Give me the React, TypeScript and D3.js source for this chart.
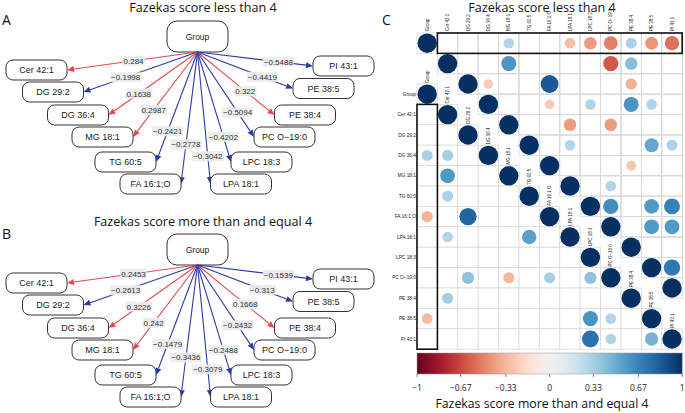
import * as d3 from "d3";

// network panels: Group -> lipid correlations
const lipids = [
  "Cer 42:1", "DG 29:2", "DG 36:4", "MG 18:1", "TG 60:5", "FA 16:1;O",
  "LPA 18:1", "LPC 18:3", "PC O−19:0", "PE 38:4", "PE 38:5", "PI 43:1",
];
const corrLow = [0.284, -0.1998, 0.1638, 0.2987, -0.2421, -0.2778, -0.3042, -0.4202, -0.5094, 0.322, -0.4419, -0.5488];
const corrHigh = [0.2453, -0.2613, 0.3226, 0.242, -0.1479, -0.3436, -0.3079, -0.2488, -0.2432, 0.1668, -0.313, -0.1539];

// correlation matrix panel: [row, col, r]
const matrixLabels = ["Group", ...lipids];
const upperLow: [number, number, number][] = [
  [0, 0, 1], [0, 4, 0.2987], [0, 7, -0.3042], [0, 8, -0.4202], [0, 9, -0.5094], [0, 10, 0.322], [0, 11, -0.4419], [0, 12, -0.5488],
  [1, 1, 1], [1, 4, 0.6], [1, 9, -0.62], [1, 10, 0.42],
  [2, 2, 1], [2, 3, -0.25], [2, 6, 0.85], [2, 10, -0.35],
  [3, 3, 1], [3, 6, -0.25], [3, 8, 0.3], [3, 10, 0.6], [3, 11, 0.3],
  [4, 4, 1], [4, 7, -0.42], [4, 9, -0.42],
  [5, 5, 1], [5, 7, 0.3], [5, 11, 0.52], [5, 12, 0.32],
  [6, 6, 1], [6, 10, -0.27],
  [7, 7, 1], [7, 9, 0.3],
  [8, 8, 1], [8, 9, 0.63], [8, 11, 0.58], [8, 12, 0.68],
  [9, 9, 1], [9, 11, 0.58], [9, 12, 0.58],
  [10, 10, 1],
  [11, 11, 1], [11, 12, 0.72],
  [12, 12, 1],
];
const lowerHigh: [number, number, number][] = [
  [0, 0, 1],
  [1, 1, 1],
  [2, 2, 1],
  [3, 0, 0.3226], [3, 1, 0.33], [3, 3, 1],
  [4, 1, 0.58], [4, 4, 1],
  [5, 1, 0.32], [5, 5, 1],
  [6, 0, -0.3436], [6, 2, 0.8], [6, 6, 1],
  [7, 1, 0.3], [7, 5, 0.55], [7, 7, 1],
  [8, 8, 1],
  [9, 2, 0.4], [9, 4, -0.33], [9, 6, 0.33], [9, 8, 0.4], [9, 9, 1],
  [10, 1, 0.33], [10, 10, 1],
  [11, 0, -0.313], [11, 8, 0.6], [11, 9, 0.3], [11, 11, 1],
  [12, 8, 0.75], [12, 9, 0.3], [12, 11, 0.47], [12, 12, 1],
];
const barTicks = [-1, -0.67, -0.33, 0, 0.33, 0.67, 1];

// graph layout (node centres relative to panel top, label position along edge)
const nodeLayout = [
  { x: 36.5, y: 49, side: "L", t: 0.49 },
  { x: 53, y: 71, side: "L", t: 0.63 },
  { x: 78, y: 94, side: "L", t: 0.66 },
  { x: 102.5, y: 116, side: "L", t: 0.68 },
  { x: 125.5, y: 141, side: "L", t: 0.72 },
  { x: 150.5, y: 163, side: "L", t: 0.7 },
  { x: 241, y: 163, side: "R", t: 0.79 },
  { x: 261.5, y: 141, side: "R", t: 0.77 },
  { x: 284.5, y: 116, side: "R", t: 0.71 },
  { x: 305, y: 94, side: "R", t: 0.62 },
  { x: 323.5, y: 67.5, side: "R", t: 0.68 },
  { x: 343.5, y: 45, side: "R", t: 0.7 },
];

const RED = "#e8484d";
const BLUE = "#2b3ca8";
const SANS = "'Liberation Sans', Arial, sans-serif";
const TITLE = "'Open Sans', 'Noto Sans', sans-serif";
const fmt = (v: number) => (v < 0 ? "−" + Math.abs(v) : String(v));

function Network({ values, top, title, letter, titleY }: { values: number[]; top: number; title: string; letter: string; titleY: number }) {
  const nodeW = 61;
  const nodeH = 20;
  const gx = 197.5;
  const gTop = top;
  const src = { x: gx, y: gTop + 31 };
  return (
    <g>
      <text x={203} y={titleY} textAnchor="middle" fontFamily={TITLE} fontSize={12.6} fill="#111">{title}</text>
      <text x={2} y={titleY + 13} fontFamily={TITLE} fontSize={14} fill="#111">{letter}</text>
      <rect x={gx - 30.5} y={gTop} width={61} height={31} rx={10} fill="#fff" stroke="#333" strokeWidth={1} />
      <text x={gx} y={gTop + 18.5} textAnchor="middle" fontFamily={SANS} fontSize={8.5} fill="#222">Group</text>
      {values.map((v, i) => {
        const n = nodeLayout[i];
        const cy = top + n.y;
        const tx = n.side === "L" ? n.x + nodeW / 2 : n.x - nodeW / 2;
        const dx = tx - src.x;
        const dy = cy - src.y;
        const len = Math.hypot(dx, dy);
        const ux = dx / len;
        const uy = dy / len;
        const ah = 7;
        const aw = 3;
        const bx = tx - ux * ah;
        const by = cy - uy * ah;
        const col = v >= 0 ? RED : BLUE;
        const lx = src.x + dx * n.t;
        const ly = src.y + dy * n.t;
        const label = fmt(v);
        const lw = label.length * 4.3 + 1;
        return (
          <g key={i}>
            <line x1={src.x} y1={src.y} x2={bx} y2={by} stroke={col} strokeWidth={1.1} />
            <polygon
              points={`${tx},${cy} ${bx - uy * aw},${by + ux * aw} ${bx + uy * aw},${by - ux * aw}`}
              fill={col}
            />
            <rect x={lx - lw / 2} y={ly - 5} width={lw} height={10} fill="#ececec" fillOpacity={0.92} />
            <text x={lx} y={ly + 3} textAnchor="middle" fontFamily={SANS} fontSize={8} fill="#333">{label}</text>
            <rect x={n.x - nodeW / 2} y={cy - nodeH / 2} width={nodeW} height={nodeH} rx={7} fill="#fff" stroke="#333" strokeWidth={1} />
            <text x={n.x} y={cy + 3.3} textAnchor="middle" fontFamily={SANS} fontSize={9} fill="#222">{lipids[i]}</text>
          </g>
        );
      })}
    </g>
  );
}

function Matrix() {
  const n = matrixLabels.length;
  const idx = d3.range(n);
  const x = d3.scaleBand<number>().domain(idx).range([417, 682.2]);
  const yUp = d3.scaleBand<number>().domain(idx).range([33, 298.2]);
  const yLo = d3.scaleBand<number>().domain(idx).range([84, 349.2]);
  const c = x.bandwidth();
  const r = d3.scaleSqrt().domain([0, 1]).range([0, 0.475 * c]);
  const color = (v: number) => d3.interpolateRdBu((v + 1) / 2);
  const bar = d3.scaleLinear().domain([-1, 1]).range([417, 682.2]);
  const stops = d3.range(0, 1.0001, 0.05);

  const upperCells = idx.flatMap((i) => idx.filter((j) => j >= i).map((j) => [i, j]));
  const lowerCells = idx.flatMap((i) => idx.filter((j) => j <= i).map((j) => [i, j]));

  return (
    <g>
      <defs>
        <linearGradient id="rdbu" x1="0" x2="1" y1="0" y2="0">
          {stops.map((s) => (
            <stop key={s} offset={s} stopColor={d3.interpolateRdBu(s)} />
          ))}
        </linearGradient>
      </defs>
      <text x={542} y={12} textAnchor="middle" fontFamily={TITLE} fontSize={12.6} fill="#111">Fazekas score less than 4</text>
      <text x={382} y={25} fontFamily={TITLE} fontSize={14} fill="#111">C</text>

      {upperCells.map(([i, j]) => (
        <rect key={`u${i}-${j}`} x={x(j)} y={yUp(i)} width={c} height={c} fill="#fff" stroke="#d9d9d9" strokeWidth={0.8} />
      ))}
      {lowerCells.map(([i, j]) => (
        <rect key={`l${i}-${j}`} x={x(j)} y={yLo(i)} width={c} height={c} fill="#fff" stroke="#d9d9d9" strokeWidth={0.8} />
      ))}
      {upperCells.map(([i, j]) =>
        i === j ? null : (
          <rect key={`uu${i}-${j}`} x={x(j)} y={yUp(i)} width={c} height={c} fill="none" stroke="#d9d9d9" strokeWidth={0.8} />
        )
      )}

      {upperLow.map(([i, j, v]) => (
        <circle key={`cu${i}-${j}`} cx={x(j)! + c / 2} cy={yUp(i)! + c / 2} r={r(Math.abs(v))} fill={color(v)} />
      ))}
      {lowerHigh.map(([i, j, v]) => (
        <circle key={`cl${i}-${j}`} cx={x(j)! + c / 2} cy={yLo(i)! + c / 2} r={r(Math.abs(v))} fill={color(v)} />
      ))}

      {matrixLabels.map((lab, j) => (
        <text key={`tt${j}`} transform={`translate(${x(j)! + c / 2 + 1.6},31) rotate(-90)`} fontFamily={SANS} fontSize={4.5} fill="#222">{lab}</text>
      ))}
      {matrixLabels.map((lab, j) => (
        <text key={`td${j}`} transform={`translate(${x(j)! + c / 2 + 1.6},${yLo(j)! - 1}) rotate(-90)`} fontFamily={SANS} fontSize={4.5} fill="#222">{lab}</text>
      ))}
      {matrixLabels.map((lab, i) => (
        <text key={`tl${i}`} x={416} y={yLo(i)! + c / 2 + 1.6} textAnchor="end" fontFamily={SANS} fontSize={4.8} fill="#222">{lab}</text>
      ))}

      <rect x={x(1)} y={yUp(0)} width={x(n - 1)! + c - x(1)!} height={c} fill="none" stroke="#111" strokeWidth={1.6} />
      <rect x={x(0)} y={yLo(1)} width={c} height={yLo(n - 1)! + c - yLo(1)!} fill="none" stroke="#111" strokeWidth={1.6} />

      <rect x={bar(-1)} y={353} width={bar(1) - bar(-1)} height={21} fill="url(#rdbu)" stroke="#999" strokeWidth={0.5} />
      {barTicks.map((t) => (
        <g key={t}>
          <line x1={bar(t)} x2={bar(t)} y1={374} y2={377} stroke="#333" strokeWidth={0.6} />
          <text x={bar(t)} y={391} textAnchor="middle" fontFamily={TITLE} fontSize={8.5} fill="#222">{fmt(t)}</text>
        </g>
      ))}
      <text x={542} y={408} textAnchor="middle" fontFamily={TITLE} fontSize={12.3} fill="#111">Fazekas score more than and equal 4</text>
    </g>
  );
}

export default function App() {
  return (
    <svg width={685} height={413} style={{ position: "absolute", left: 0, top: 0, background: "#fff" }}>
      <rect width={685} height={413} fill="#fff" />
      <Network values={corrLow} top={21} title="Fazekas score less than 4" letter="A" titleY={12} />
      <Network values={corrHigh} top={234} title="Fazekas score more than and equal 4" letter="B" titleY={226} />
      <Matrix />
    </svg>
  );
}
